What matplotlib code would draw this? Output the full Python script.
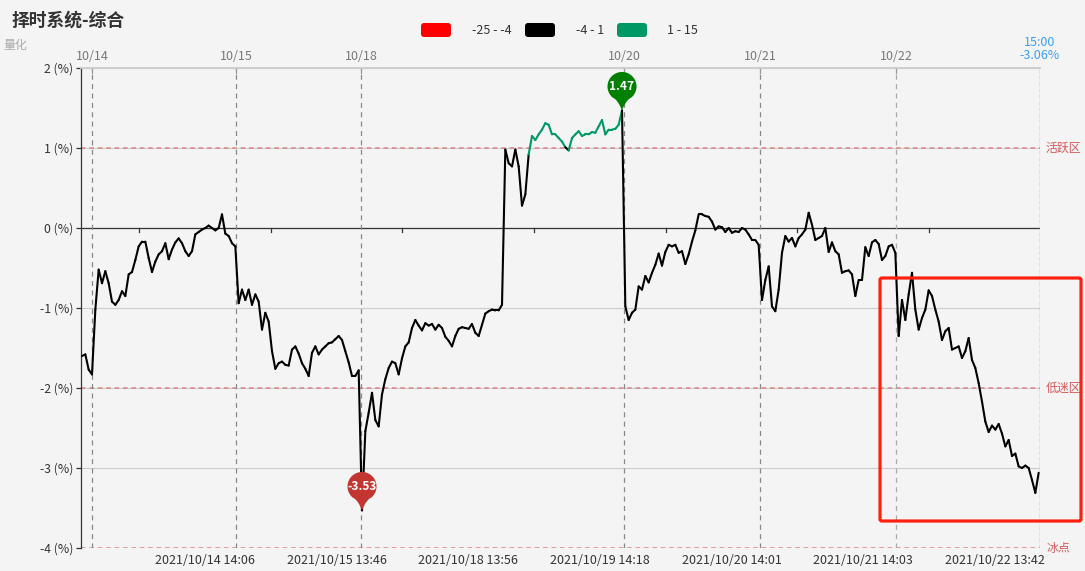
import numpy as np
import matplotlib
matplotlib.use('Agg')
import matplotlib.pyplot as plt
from matplotlib.collections import LineCollection
from matplotlib.patches import FancyBboxPatch, PathPatch
from matplotlib.path import Path
import matplotlib.transforms as mtransforms

plt.rcParams['font.family'] = ['Noto Sans CJK SC', 'DejaVu Sans']

# ---------------- data ----------------
title = '择时系统-综合'
subtitle = '量化'

part1 = [-1.60, -1.58, -1.77, -1.83, -1.02, -0.52, -0.69, -0.54, -0.69, -0.92, -0.96, -0.90, -0.79, -0.85, -0.58,
         -0.55, -0.40, -0.23, -0.17, -0.17, -0.375, -0.55, -0.42, -0.33, -0.29, -0.19, -0.39, -0.27, -0.18, -0.13,
         -0.19, -0.29, -0.35, -0.29, -0.08, -0.05, -0.02, 0.00, 0.03, 0.00, -0.03, 0.00, 0.17, -0.07, -0.10,
         -0.19, -0.23, -0.94, -0.77, -0.90, -0.77, -0.96, -0.83, -0.92, -1.27, -1.06, -1.17, -1.54, -1.76, -1.69,
         -1.67, -1.71, -1.72, -1.52, -1.48, -1.57, -1.69, -1.76, -1.85, -1.56, -1.48, -1.58, -1.52, -1.48, -1.44]
part2 = [-1.43, -1.39, -1.35, -1.40, -1.54, -1.68, -1.85, -1.85, -1.78, -3.53, -2.54, -2.31, -2.06, -2.40, -2.48,
         -2.08, -1.89, -1.75, -1.67, -1.69, -1.83, -1.63, -1.48, -1.43, -1.25, -1.15, -1.22, -1.28, -1.19, -1.22,
         -1.20, -1.27, -1.21, -1.25, -1.36, -1.41, -1.48, -1.35, -1.26, -1.24, -1.25, -1.26, -1.20, -1.31, -1.35,
         -1.21, -1.07, -1.04, -1.02, -1.03, -1.03, -0.96, 0.98, 0.81, 0.77, 0.98, 0.77, 0.28, 0.42, 0.92,
         1.15, 1.10, 1.17, 1.23, 1.31, 1.29, 1.17, 1.17, 1.125, 1.08, 1.01, 0.97]
part3 = [1.125, 1.17, 1.21, 1.15, 1.17, 1.17, 1.20, 1.19, 1.27, 1.35, 1.17, 1.23, 1.23, 1.24, 1.29,
         1.47, -0.98, -1.15, -1.06, -1.02, -0.73, -0.77, -0.60, -0.68, -0.56, -0.46, -0.32, -0.47, -0.30, -0.21,
         -0.23, -0.21, -0.31, -0.29, -0.45, -0.33, -0.17, -0.03, 0.17, 0.17, 0.15, 0.14, 0.08, -0.02, 0.02,
         0.01, -0.05, 0.00, -0.06, -0.04, -0.05, 0.00, -0.02, -0.08, -0.15, -0.15, -0.21, -0.90, -0.65, -0.48,
         -0.98, -1.04, -0.77, -0.31, -0.10, -0.17, -0.125, -0.23, -0.125, -0.08, -0.02, 0.19]
part4 = [0.04, -0.15, -0.125, -0.10, 0.00, -0.30, -0.18, -0.29, -0.33, -0.56, -0.54, -0.53, -0.58, -0.85, -0.65,
         -0.65, -0.24, -0.35, -0.18, -0.15, -0.20, -0.40, -0.35, -0.23, -0.21, -0.31, -1.35, -0.90, -1.15, -0.83,
         -0.56, -1.02, -1.27, -1.125, -1.02, -0.78, -0.85, -1.02, -1.17, -1.40, -1.29, -1.25, -1.52, -1.50, -1.48,
         -1.625, -1.54, -1.375, -1.65, -1.75, -1.94, -2.17, -2.42, -2.55, -2.47, -2.52, -2.45, -2.57, -2.73, -2.65,
         -2.85, -2.82, -2.98, -3.00, -2.97, -3.00, -3.15, -3.31, -3.06]

day_labels = ['10/14', '10/15', '10/18', '10/20', '10/21', '10/22']
day_idx = [3.0, 46.2, 83.7, 162.6, 203.4, 244.2]
end_idx = 287.4
end_label = '15:00\n-3.06%'

bottom_labels = ['2021/10/14 14:06', '2021/10/15 13:46', '2021/10/18 13:56', '2021/10/19 14:18',
                 '2021/10/20 14:01', '2021/10/21 14:03', '2021/10/22 13:42']
bottom_idx = [36.9, 76.5, 115.8, 155.4, 195.0, 234.3, 273.9]

y_ticks = [2, 1, 0, -1, -2, -3, -4]
zone_levels = [1, -2, -4]
zone_labels = ['活跃区', '低迷区', '冰点']

legend_labels = ['-25 - -4', '-4 - 1', '1 - 15']
legend_colors = ['#ff0000', '#000000', '#009966']
piece_bounds = [-25, -4, 1, 15]

# ---------------- figure ----------------
W, H = 1085, 571
BG = '#f4f4f4'
FS = 9.0
fig = plt.figure(figsize=(W / 100, H / 100), dpi=100, facecolor=BG)
L, R, T, B = 81, 1040, 68, 548
ax = fig.add_axes([L / W, 1 - B / H, (R - L) / W, (B - T) / H])
ax.set_facecolor(BG)

px = mtransforms.Affine2D().scale(1 / W, -1 / H).translate(0, 1) + fig.transFigure

values = np.array(part1 + part2 + part3 + part4)
idx = np.arange(len(values))

# grid lines
for v in y_ticks:
    ax.axhline(v, color='#cccccc', lw=0.8, zorder=0)
ax.axhline(0, color='#333333', lw=0.9, zorder=1)

# zone lines
for lv, lab in zip(zone_levels, zone_labels):
    ax.axhline(lv, color='#d98585', lw=1.1, ls=(0, (3, 2.5)), zorder=1)
    ax.text(1.0063, lv, lab, transform=ax.get_yaxis_transform(), ha='left', va='center',
            color='#d55a5a', fontsize=8.6)

# day lines
for i, d in enumerate(day_idx):
    col = '#aaaaaa' if i == len(day_idx) - 1 else '#888888'
    ax.axvline(d, color=col, lw=0.9, ls=(0, (4, 3.5)), zorder=1)
    ax.text(d, 1.025, day_labels[i], transform=ax.get_xaxis_transform(), ha='center', va='center',
            color='#777777', fontsize=FS)
    ax.plot([d, d], [1, 1 - 5 / 480], transform=ax.get_xaxis_transform(), color='#999999', lw=0.9,
            clip_on=False)

ax.axvline(end_idx, color='#cccccc', lw=0.9, zorder=1)
ax.axvline(end_idx, color='#3a9ff5', lw=0.9, ls=(0, (3, 2)), zorder=2)
ax.text(end_idx, 1.04, end_label, transform=ax.get_xaxis_transform(), ha='center', va='center',
        color='#3a9ff5', fontsize=FS, linespacing=1.0)

# bottom labels and ticks on zero line
for bi, bl in zip(bottom_idx, bottom_labels):
    ax.text(bi, -0.025, bl, transform=ax.get_xaxis_transform(), ha='center', va='center',
            color='#333333', fontsize=FS)
    t = bi - 19.75
    ax.plot([t, t], [0, -0.05], color='#333333', lw=0.9, zorder=1)

# series
pts = np.column_stack([idx, values])
segs = np.stack([pts[:-1], pts[1:]], axis=1)
mids = (values[:-1] + values[1:]) / 2
cols = []
for m in mids:
    c = legend_colors[1]
    for k in range(3):
        if piece_bounds[k] <= m < piece_bounds[k + 1]:
            c = legend_colors[k]
    cols.append(c)
lc = LineCollection(segs, colors=cols, linewidths=1.5, zorder=3, capstyle='round', joinstyle='round')
ax.add_collection(lc)

# pins
def pin_path(c=1.65):
    th = np.linspace(np.deg2rad(-50), np.deg2rad(230), 80)
    arc = np.column_stack([np.cos(th), c + np.sin(th)])

    def bez(p0, p1, p2, n=20):
        t = np.linspace(0, 1, n)[:, None]
        return (1 - t) ** 2 * p0 + 2 * (1 - t) * t * p1 + t ** 2 * p2
    tip = np.array([0.0, 0.0])
    left = bez(arc[-1], np.array([-0.3, 0.75]), tip)
    right = bez(tip, np.array([0.3, 0.75]), arc[0])
    verts = np.vstack([arc, left[1:], right[1:], arc[:1]])
    return Path(verts, closed=True)

def draw_pin(x, y, color, text, r_px=14.5, c=1.65):
    r_pt = r_px * 72 / 100
    tr = (mtransforms.Affine2D().scale(r_pt / 72) + fig.dpi_scale_trans +
          mtransforms.ScaledTranslation(x, y, ax.transData))
    p = PathPatch(pin_path(c), transform=tr, facecolor=color, edgecolor='none', zorder=6, clip_on=False)
    ax.add_artist(p)
    ax.annotate(text, xy=(x, y), xytext=(0, c * r_pt), textcoords='offset points', ha='center',
                va='center', color='white', fontsize=8.6, fontweight='bold', zorder=7,
                annotation_clip=False)

imin, imax = int(np.argmin(values)), int(np.argmax(values))
draw_pin(imin, values[imin], '#c23531', f'{values[imin]:.2f}')
draw_pin(imax, values[imax], '#008000', f'{values[imax]:.2f}')

# axes styling
ax.set_xlim(-0.3, end_idx)
ax.set_ylim(-4, 2)
for s in ['right', 'bottom']:
    ax.spines[s].set_visible(False)
ax.spines['left'].set_color('#333333')
ax.spines['left'].set_linewidth(0.9)
ax.spines['top'].set_color('#cccccc')
ax.spines['top'].set_linewidth(1.3)
ax.set_xticks([])
ax.set_yticks(y_ticks)
ax.set_yticklabels([f'{v} (%)' for v in y_ticks])
ax.tick_params(axis='y', length=3.6, width=0.9, color='#333333', labelcolor='#333333', labelsize=8.8, pad=2)

# title
fig.text(12 / W, 1 - 21 / H, title, fontsize=12.8, fontweight='bold', color='#333333', va='center', ha='left')
fig.text(3.5 / W, 1 - 45 / H, subtitle, fontsize=8.6, color='#aaaaaa', va='center', ha='left')

# legend
box_x = [421, 525, 617]
txt_x = [472, 576, 667]
for bx, tx, lab, col in zip(box_x, txt_x, legend_labels, legend_colors):
    fig.patches.append(FancyBboxPatch((bx, 23), 30, 14, boxstyle='round,pad=0,rounding_size=3',
                                      transform=px, facecolor=col, edgecolor='none'))
    fig.text(tx / W, 1 - 30 / H, lab, fontsize=FS, color='#333333', va='center', ha='left')

# highlight box
fig.patches.append(FancyBboxPatch((880, 278), 201, 243, boxstyle='round,pad=0,rounding_size=2',
                                  transform=px, facecolor='none', edgecolor='#ff2010', linewidth=2.3))

fig.savefig('out.png', dpi=100, facecolor=BG)
